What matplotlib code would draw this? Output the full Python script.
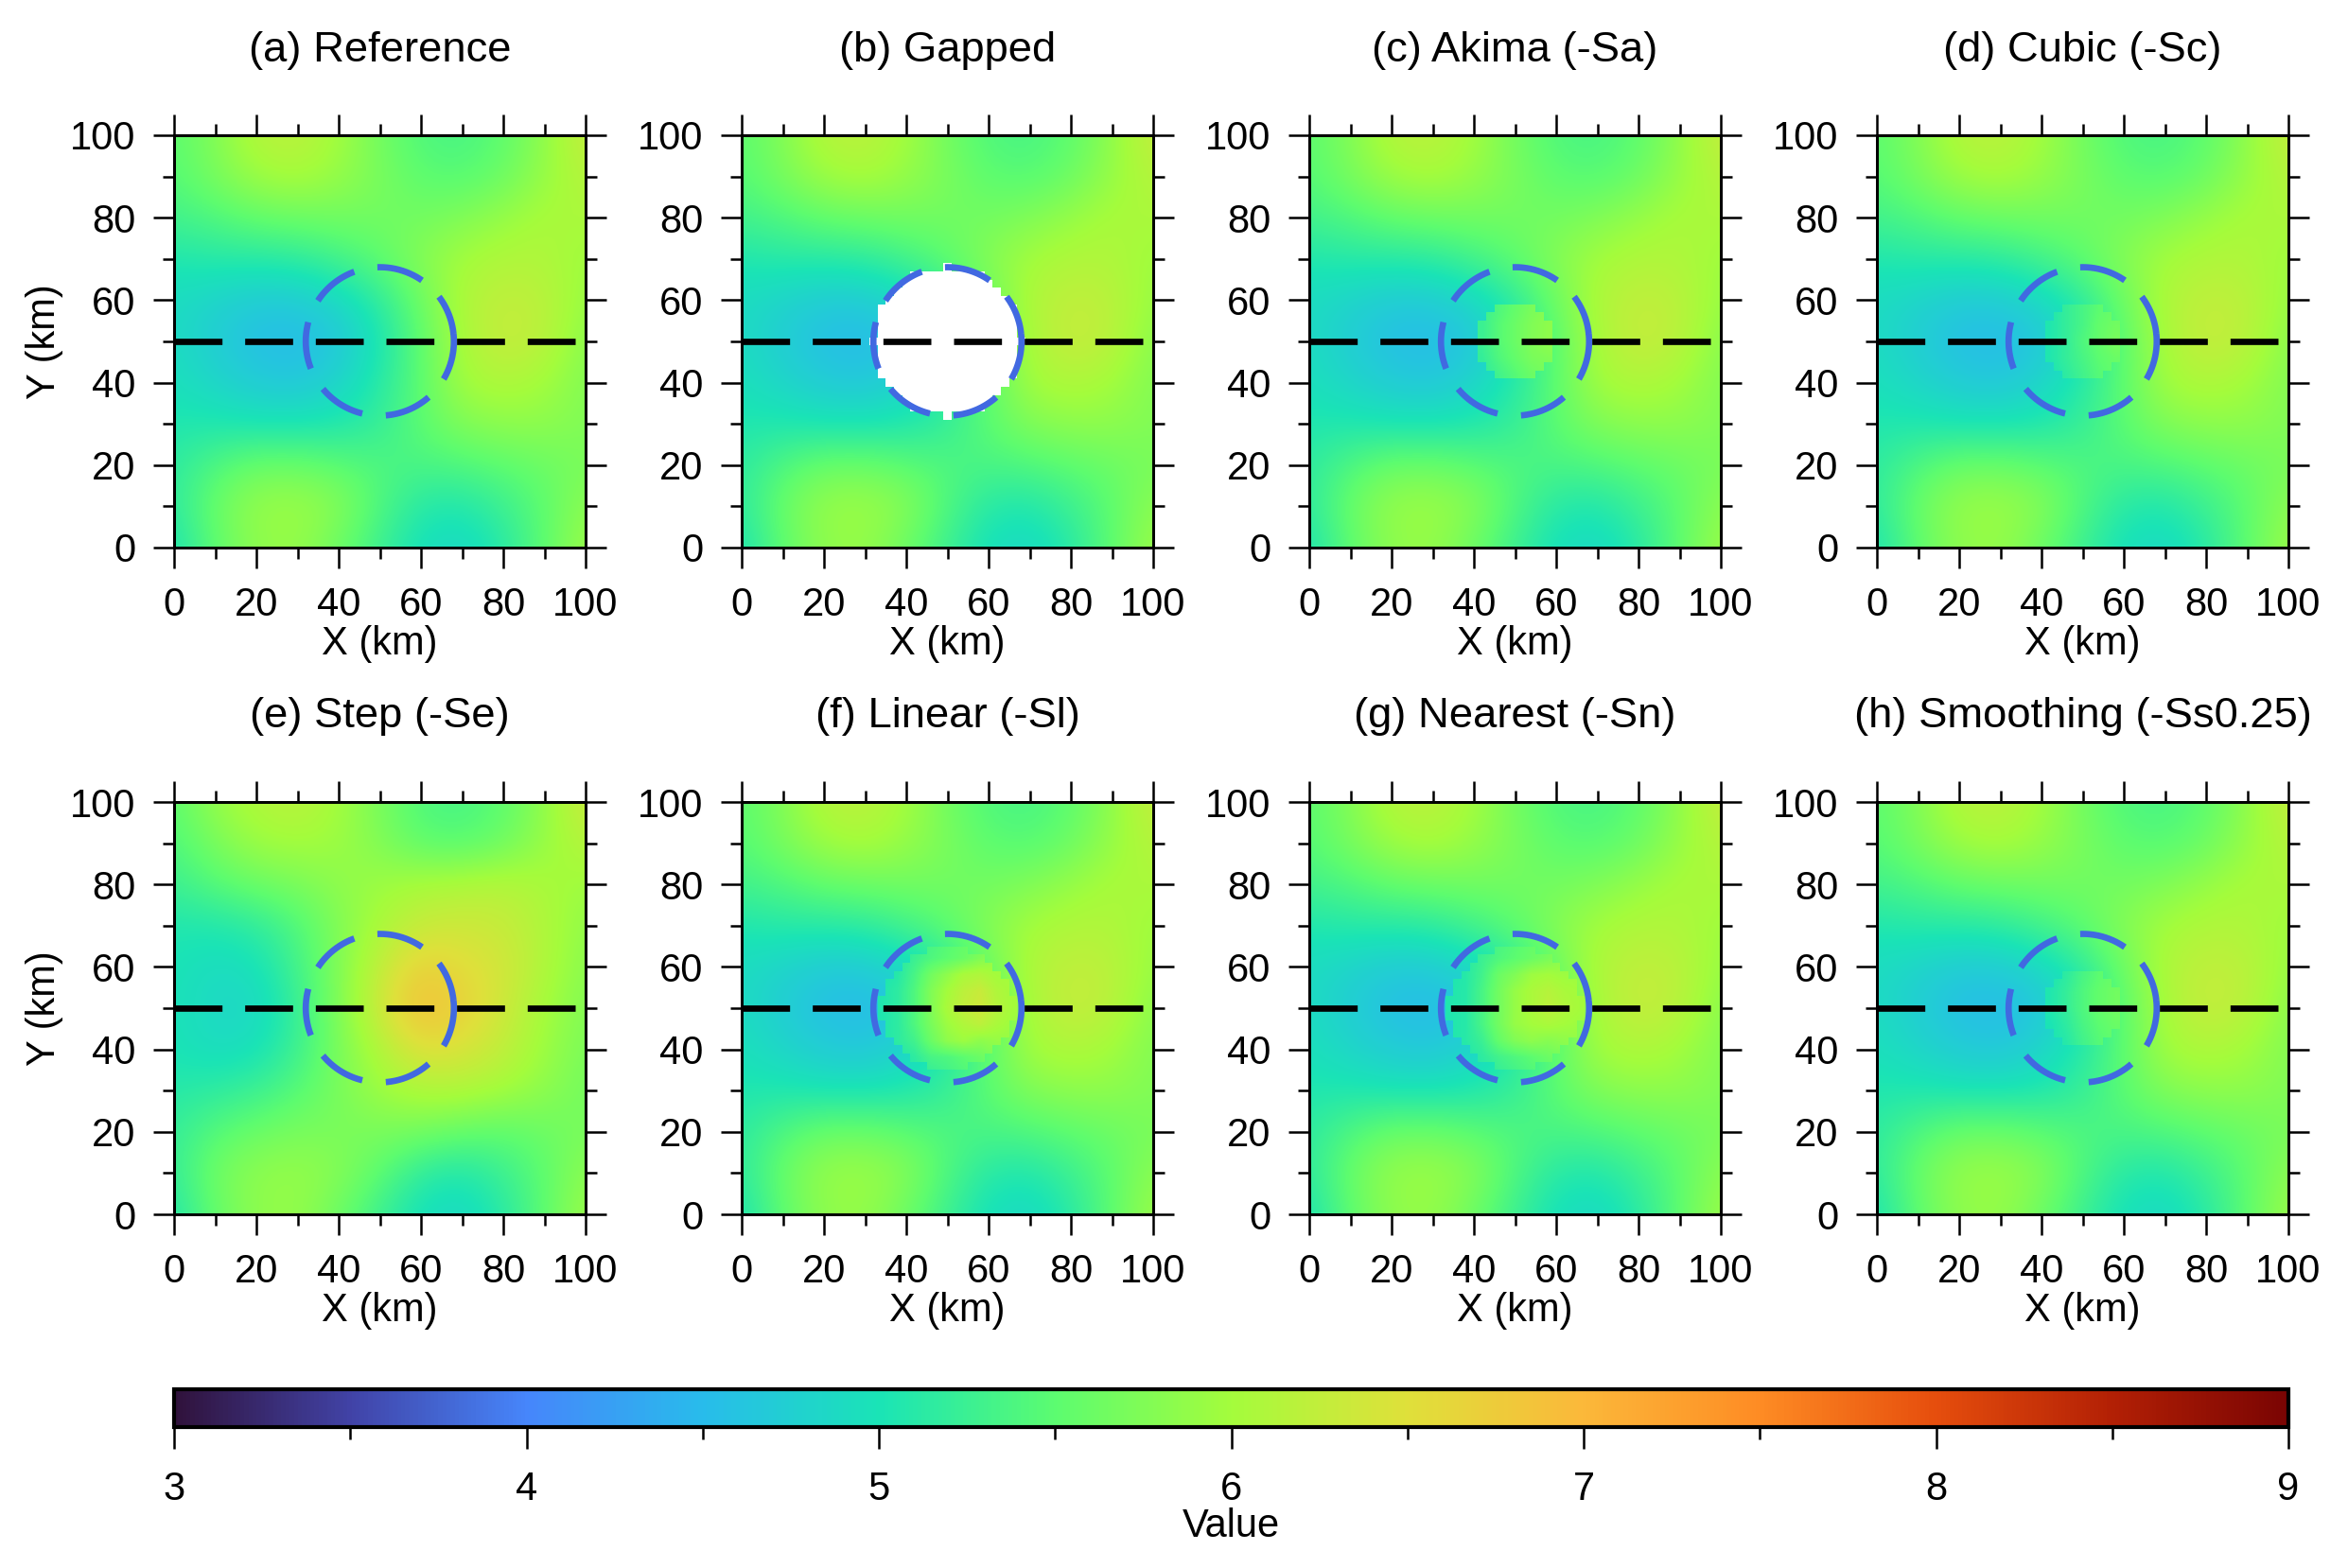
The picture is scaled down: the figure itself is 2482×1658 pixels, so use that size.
import numpy as np
import matplotlib
matplotlib.use('Agg')
import matplotlib.pyplot as plt
from matplotlib.cm import ScalarMappable
from matplotlib.colors import LinearSegmentedColormap, Normalize
from matplotlib.path import Path
from matplotlib.patches import PathPatch
from matplotlib.ticker import MultipleLocator

plt.rcParams['font.family'] = ['Liberation Sans', 'DejaVu Sans']

W, H = 2482, 1658
VMIN, VMAX = 3, 9

titles = ['(a) Reference', '(b) Gapped', '(c) Akima (-Sa)', '(d) Cubic (-Sc)',
          '(e) Step (-Se)', '(f) Linear (-Sl)', '(g) Nearest (-Sn)', '(h) Smoothing (-Ss0.25)']

# colour bar, value -> colour
cbar_values = [3, 3.5, 4, 4.5, 5, 5.5, 6, 6.5, 7, 7.5, 8, 8.5, 9]
cbar_colors = ['#30123b', '#4143a7', '#4686fb', '#28bceb', '#1ae4b6', '#5cfc70', '#a4fc3c',
               '#dfe03a', '#fbb83a', '#fe8c24', '#e64e0d', '#b32005', '#7a0403']

# values at x = 0,10..100, rows from y = 100 down to y = 0
reference = [
    [5.50, 5.75, 6.15, 6.20, 6.00, 5.65, 5.40, 5.35, 5.50, 5.85, 6.30],
    [5.45, 5.70, 5.95, 6.05, 5.90, 5.70, 5.50, 5.45, 5.60, 5.90, 6.15],
    [5.30, 5.40, 5.55, 5.60, 5.65, 5.65, 5.65, 5.75, 5.90, 6.05, 6.05],
    [5.05, 5.10, 5.10, 5.15, 5.30, 5.50, 5.80, 6.00, 6.10, 6.10, 5.95],
    [4.90, 4.80, 4.70, 4.70, 4.85, 5.15, 5.60, 6.10, 6.25, 6.20, 5.90],
    [4.90, 4.72, 4.55, 4.50, 4.65, 5.00, 5.50, 6.05, 6.30, 6.20, 5.80],
    [4.95, 4.82, 4.70, 4.65, 4.80, 5.10, 5.50, 6.00, 6.10, 6.00, 5.75],
    [5.05, 5.05, 5.00, 5.00, 5.05, 5.20, 5.50, 5.75, 5.85, 5.85, 5.75],
    [5.15, 5.40, 5.60, 5.60, 5.50, 5.40, 5.35, 5.40, 5.50, 5.60, 5.70],
    [5.15, 5.60, 5.90, 5.95, 5.80, 5.40, 5.10, 5.05, 5.25, 5.50, 5.85],
    [5.00, 5.50, 5.85, 5.90, 5.60, 5.25, 4.95, 4.85, 5.10, 5.50, 5.95],
]
step = [
    [5.50, 5.90, 6.10, 6.20, 6.00, 5.70, 5.40, 5.35, 5.50, 5.85, 6.35],
    [5.40, 5.70, 5.95, 6.00, 5.95, 5.75, 5.50, 5.45, 5.60, 5.90, 6.15],
    [5.25, 5.45, 5.60, 5.70, 5.85, 5.95, 6.05, 6.10, 6.15, 6.05, 5.95],
    [5.05, 5.05, 5.15, 5.40, 5.75, 6.05, 6.30, 6.35, 6.30, 6.10, 5.85],
    [5.00, 4.90, 4.95, 5.30, 5.75, 6.25, 6.70, 6.55, 6.40, 6.10, 5.80],
    [5.00, 4.85, 4.85, 5.20, 5.75, 6.35, 6.95, 6.70, 6.35, 6.00, 5.75],
    [5.00, 4.90, 4.95, 5.25, 5.70, 6.10, 6.50, 6.45, 6.25, 5.95, 5.70],
    [5.10, 5.15, 5.25, 5.45, 5.70, 5.95, 6.10, 6.10, 6.00, 5.85, 5.65],
    [5.20, 5.45, 5.60, 5.70, 5.70, 5.70, 5.65, 5.55, 5.50, 5.60, 5.70],
    [5.20, 5.65, 5.85, 5.90, 5.80, 5.50, 5.15, 5.05, 5.25, 5.50, 5.85],
    [5.05, 5.55, 5.85, 5.90, 5.60, 5.25, 4.95, 4.85, 5.10, 5.50, 5.95],
]

# infilled values inside the gap, x = 42,46..58, rows from y = 58 down to y = 42
patch_akima = [
    [5.25, 5.40, 5.55, 5.70, 5.80],
    [5.25, 5.45, 5.60, 5.75, 5.85],
    [5.25, 5.45, 5.60, 5.75, 5.85],
    [5.20, 5.40, 5.55, 5.70, 5.75],
    [5.15, 5.30, 5.45, 5.60, 5.70],
]
patch_cubic = [
    [5.05, 5.20, 5.35, 5.50, 5.60],
    [5.05, 5.20, 5.35, 5.55, 5.65],
    [5.05, 5.20, 5.40, 5.55, 5.70],
    [5.05, 5.20, 5.35, 5.50, 5.60],
    [5.00, 5.15, 5.30, 5.45, 5.55],
]
patch_smooth = [
    [5.00, 5.15, 5.35, 5.50, 5.60],
    [5.05, 5.20, 5.40, 5.55, 5.65],
    [5.05, 5.20, 5.40, 5.55, 5.65],
    [5.00, 5.15, 5.35, 5.50, 5.60],
    [5.00, 5.10, 5.30, 5.45, 5.55],
]
# these two reach further out: x = 34,38..66, rows from y = 66 down to y = 34
patch_linear = [
    [5.00, 5.10, 5.20, 5.35, 5.45, 5.55, 5.65, 5.75, 5.85],
    [5.00, 5.10, 5.25, 5.40, 5.50, 5.60, 5.75, 5.90, 5.95],
    [5.00, 5.10, 5.35, 5.65, 5.85, 6.05, 6.10, 6.00, 6.00],
    [5.05, 5.15, 5.40, 5.75, 6.00, 6.20, 6.30, 6.10, 6.00],
    [5.05, 5.15, 5.40, 5.75, 6.05, 6.25, 6.35, 6.15, 6.00],
    [5.05, 5.15, 5.40, 5.70, 5.95, 6.10, 6.20, 6.05, 5.95],
    [5.05, 5.15, 5.30, 5.60, 5.85, 5.95, 5.85, 5.90, 5.90],
    [5.00, 5.05, 5.15, 5.35, 5.40, 5.50, 5.60, 5.75, 5.85],
    [5.00, 5.05, 5.10, 5.20, 5.30, 5.40, 5.50, 5.65, 5.75],
]
patch_nearest = [
    [5.00, 5.10, 5.20, 5.35, 5.45, 5.55, 5.65, 5.75, 5.85],
    [5.00, 5.10, 5.25, 5.40, 5.50, 5.60, 5.70, 5.85, 5.90],
    [5.00, 5.10, 5.30, 5.60, 5.75, 5.95, 6.00, 5.95, 5.95],
    [5.05, 5.10, 5.35, 5.65, 5.90, 6.05, 6.15, 6.05, 6.00],
    [5.05, 5.10, 5.35, 5.65, 5.90, 6.05, 6.20, 6.10, 6.00],
    [5.05, 5.10, 5.35, 5.65, 5.90, 6.00, 6.05, 6.00, 5.95],
    [5.05, 5.10, 5.25, 5.55, 5.75, 5.85, 5.80, 5.85, 5.90],
    [5.00, 5.05, 5.15, 5.30, 5.40, 5.50, 5.60, 5.70, 5.85],
    [5.00, 5.05, 5.10, 5.20, 5.30, 5.40, 5.50, 5.65, 5.75],
]

# half width of the white gap and of the infilled blocks, per 2 km row off centre
gap_offsets = [0, 2, 4, 6, 8, 10, 12, 14, 16, 18]
gap_half = [18, 16, 16, 16, 16, 14, 12, 10, 8, 0]
small_offsets = [0, 2, 4, 6, 8]
small_half = [8, 8, 8, 6, 4]
large_offsets = [0, 2, 4, 6, 8, 10, 12, 14]
large_half = [16, 16, 14, 14, 12, 10, 8, 4]

cmap = LinearSegmentedColormap.from_list(
    'value', [((v - VMIN) / (VMAX - VMIN), c) for v, c in zip(cbar_values, cbar_colors)], N=512)
norm = Normalize(VMIN, VMAX)

fields = [reference, reference, reference, reference, step, reference, reference, reference]
patches = [None, None, patch_akima, patch_cubic, None, patch_linear, patch_nearest, patch_smooth]

fig = plt.figure(figsize=(W / 300, H / 300), dpi=300)


def px_axes(left, top, right, bottom):
    return fig.add_axes([left / W, 1 - bottom / H, (right - left) / W, (bottom - top) / H])


def block_path(offsets, half):
    # stair outline of an infilled block, 2 km cells centred on (50, 50)
    xs, ys = [], []
    for o, h in zip(offsets[::-1], half[::-1]):
        xs += [50 + h + 1, 50 + h + 1]
        ys += [50 + o + 1, 50 + o - 1]
    for o, h in zip(offsets[1:], half[1:]):
        xs += [50 + h + 1, 50 + h + 1]
        ys += [50 - o + 1, 50 - o - 1]
    right = list(zip(xs, ys))
    left = [(100 - x, y) for x, y in right[::-1]]
    return Path(right + left + [right[0]], closed=True)


lefts = [184, 784, 1384, 1984]
tops = [143, 848]
AX_W, AX_H = 435, 436

for i, title in enumerate(titles):
    row, col = divmod(i, 4)
    ax = px_axes(lefts[col], tops[row], lefts[col] + AX_W, tops[row] + AX_H)
    ax.imshow(fields[i], extent=[-5, 105, -5, 105], cmap=cmap, norm=norm,
              interpolation='bicubic', aspect='auto')
    if patches[i] is not None:
        if len(patches[i]) == 9:
            extent = [32, 68, 32, 68]
            outline = block_path(large_offsets, large_half)
        else:
            extent = [40, 60, 40, 60]
            outline = block_path(small_offsets, small_half)
        im = ax.imshow(patches[i], extent=extent, cmap=cmap, norm=norm,
                       interpolation='bilinear', aspect='auto')
        im.set_clip_path(PathPatch(outline, transform=ax.transData))
    if i == 1:
        for o, h in zip(gap_offsets, gap_half):
            ax.barh([50 + o, 50 - o], 2 * h + 2, left=50 - h - 1, height=2,
                    color='white', linewidth=0, zorder=2)

    t = np.linspace(np.radians(6), np.radians(6) - 2 * np.pi, 361)
    ax.plot(50 + 18 * np.cos(t), 50 + 18 * np.sin(t), color='royalblue', lw=1.6,
            linestyle=(0, (7.5, 3.75)), dash_capstyle='butt', zorder=3)
    ax.plot([0, 100], [50, 50], color='black', lw=1.6,
            linestyle=(0, (7.6, 3.6)), dash_capstyle='butt', zorder=4, clip_on=False)

    ax.set_xlim(0, 100)
    ax.set_ylim(0, 100)
    ax.xaxis.set_major_locator(MultipleLocator(20))
    ax.yaxis.set_major_locator(MultipleLocator(20))
    ax.xaxis.set_minor_locator(MultipleLocator(10))
    ax.yaxis.set_minor_locator(MultipleLocator(10))
    ax.tick_params(which='major', direction='out', length=5.3, width=0.6, labelsize=10,
                   top=True, right=True, pad=4.5)
    ax.tick_params(which='minor', direction='out', length=2.9, width=0.6, top=True, right=True)
    for s in ax.spines.values():
        s.set_linewidth(0.72)
        s.set_zorder(5)
    ax.set_xlabel('X (km)', fontsize=10, labelpad=0.2)
    if col == 0:
        ax.set_ylabel('Y (km)', fontsize=10, labelpad=1.6)
    ax.text(50, 100 + 90 / 4.36, title, ha='center', va='center', fontsize=10.9)

cax = px_axes(184, 1469, 2419, 1509)
sm = ScalarMappable(norm=norm, cmap=cmap)
cb = fig.colorbar(sm, cax=cax, orientation='horizontal')
cb.set_ticks([3, 4, 5, 6, 7, 8, 9])
cb.set_ticks([3.5, 4.5, 5.5, 6.5, 7.5, 8.5], minor=True)
cb.ax.tick_params(which='major', direction='out', length=5.5, width=0.6, labelsize=10, pad=5.5)
cb.ax.tick_params(which='minor', direction='out', length=3, width=0.6)
cb.outline.set_linewidth(1.0)
cb.set_label('Value', fontsize=10, labelpad=-0.2)

fig.savefig('out.png', dpi=300)
